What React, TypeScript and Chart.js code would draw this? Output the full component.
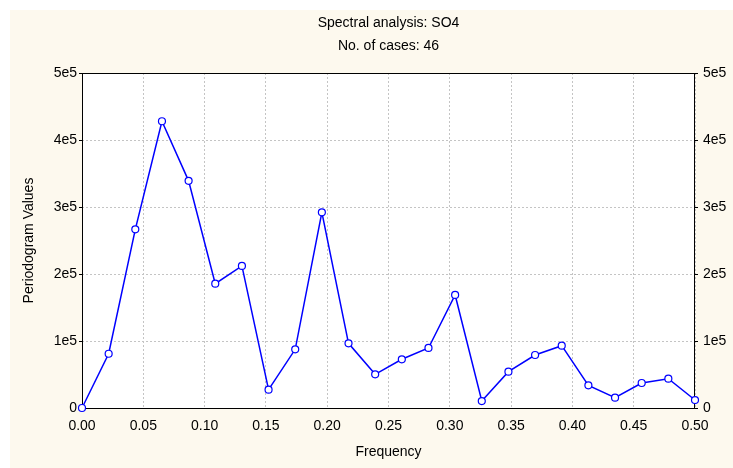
import React, { useEffect, useRef } from "react";
import { Chart, registerables } from "chart.js";

Chart.register(...registerables);

const title1 = "Spectral analysis: SO4";
const title2 = "No. of cases: 46";
const xTitle = "Frequency";
const yTitle = "Periodogram Values";
const nCases = 46;
const periodogram = [
  0, 81000, 266700, 428000, 339000, 185500, 212000, 27300, 87600, 292000,
  96500, 50300, 72700, 89600, 168700, 10400, 54200, 79100, 93000, 33800,
  15400, 37300, 43700, 11900,
];
const xTicks = [0, 0.05, 0.1, 0.15, 0.2, 0.25, 0.3, 0.35, 0.4, 0.45, 0.5];
const yTicks = [0, 100000, 200000, 300000, 400000, 500000];
const yTickLabels = ["0", "1e5", "2e5", "3e5", "4e5", "5e5"];

const FONT = "'Liberation Sans', Arial, sans-serif";

export default function App() {
  const ref = useRef<HTMLCanvasElement | null>(null);
  useEffect(() => {
    if (!ref.current) return;
    const data = periodogram.map((v, k) => ({ x: k / nCases, y: v }));
    const bgPlugin = {
      id: "bg",
      beforeDraw(chart: any) {
        const { ctx, chartArea } = chart;
        ctx.save();
        ctx.fillStyle = "#fdf9ee";
        ctx.fillRect(10, 10, chart.width - 10, chart.height - 10);
        ctx.fillStyle = "#ffffff";
        ctx.fillRect(chartArea.left, chartArea.top, chartArea.right - chartArea.left, chartArea.bottom - chartArea.top);
        ctx.restore();
      },
      beforeDatasetsDraw(chart: any) {
        const { ctx, chartArea } = chart;
        ctx.save();
        ctx.strokeStyle = "#000";
        ctx.lineWidth = 1;
        ctx.setLineDash([]);
        ctx.strokeRect(Math.round(chartArea.left) + 0.5, Math.round(chartArea.top) + 0.5,
          Math.round(chartArea.right - chartArea.left) - 1, Math.round(chartArea.bottom - chartArea.top));
        ctx.restore();
      },
      afterDraw(chart: any) {
        const { ctx, chartArea } = chart;
        const cx = (chartArea.left + chartArea.right) / 2;
        ctx.save();
        ctx.fillStyle = "#000";
        ctx.font = `14px ${FONT}`;
        ctx.textAlign = "center";
        ctx.textBaseline = "middle";
        ctx.fillText(title1, cx, 23);
        ctx.fillText(title2, cx, 46);
        ctx.fillText(xTitle, cx, 452);
        ctx.translate(29, (chartArea.top + chartArea.bottom) / 2);
        ctx.rotate(-Math.PI / 2);
        ctx.fillText(yTitle, 0, 0);
        ctx.restore();
      },
    };
    const yTickCb = (v: any) => {
      const i = yTicks.indexOf(Number(v));
      return i >= 0 ? yTickLabels[i] : "";
    };
    const chart = new Chart(ref.current, {
      type: "line",
      data: {
        datasets: [
          {
            data,
            borderColor: "#0000ff",
            borderWidth: 1.5,
            pointRadius: 3.5,
            pointBackgroundColor: "#ffffff",
            pointBorderColor: "#0000ff",
            pointBorderWidth: 1.2,
            tension: 0,
            clip: false as any,
          },
        ],
      },
      options: {
        animation: false,
        responsive: false,
        maintainAspectRatio: false,
        layout: { padding: { top: 73, left: 0, right: 0, bottom: 0 } },
        plugins: { legend: { display: false }, tooltip: { enabled: false }, title: { display: false } },
        scales: {
          x: {
            type: "linear",
            min: 0,
            max: 0.5,
            afterBuildTicks: (s: any) => { s.ticks = xTicks.map((v) => ({ value: v })); },
            afterFit: (s: any) => { s.height = 60; },
            ticks: {
              color: "#000",
              font: { family: FONT, size: 14 },
              padding: 10,
              maxRotation: 0,
              autoSkip: false,
              callback: (v: any) => Number(v).toFixed(2),
            },
            grid: { color: "#c4c4c4", drawTicks: false, tickLength: 0 } as any,
            border: { display: false, dash: [2, 2] },
          },
          y: {
            type: "linear",
            position: "left",
            min: 0,
            max: 500000,
            afterBuildTicks: (s: any) => { s.ticks = yTicks.map((v) => ({ value: v })); },
            afterFit: (s: any) => { s.width = 82; },
            ticks: { color: "#000", font: { family: FONT, size: 14 }, padding: 2, callback: yTickCb },
            grid: { color: "#c4c4c4", tickColor: "#000", tickLength: 3, tickBorderDash: [] } as any,
            border: { display: false, dash: [2, 2] },
          },
          y2: {
            type: "linear",
            position: "right",
            min: 0,
            max: 500000,
            afterBuildTicks: (s: any) => { s.ticks = yTicks.map((v) => ({ value: v })); },
            afterFit: (s: any) => { s.width = 38; },
            ticks: { color: "#000", font: { family: FONT, size: 14 }, padding: 5, callback: yTickCb },
            grid: { color: "rgba(0,0,0,0)", tickColor: "#000", tickLength: 3, tickBorderDash: [] } as any,
            border: { display: false },
          },
        },
      } as any,
      plugins: [bgPlugin],
    });
    return () => chart.destroy();
  }, []);
  return (
    <div style={{ position: "absolute", left: 0, top: 0, width: 733, height: 468 }}>
      <canvas ref={ref} width={733} height={468} style={{ display: "block", width: 733, height: 468 }} />
    </div>
  );
}
